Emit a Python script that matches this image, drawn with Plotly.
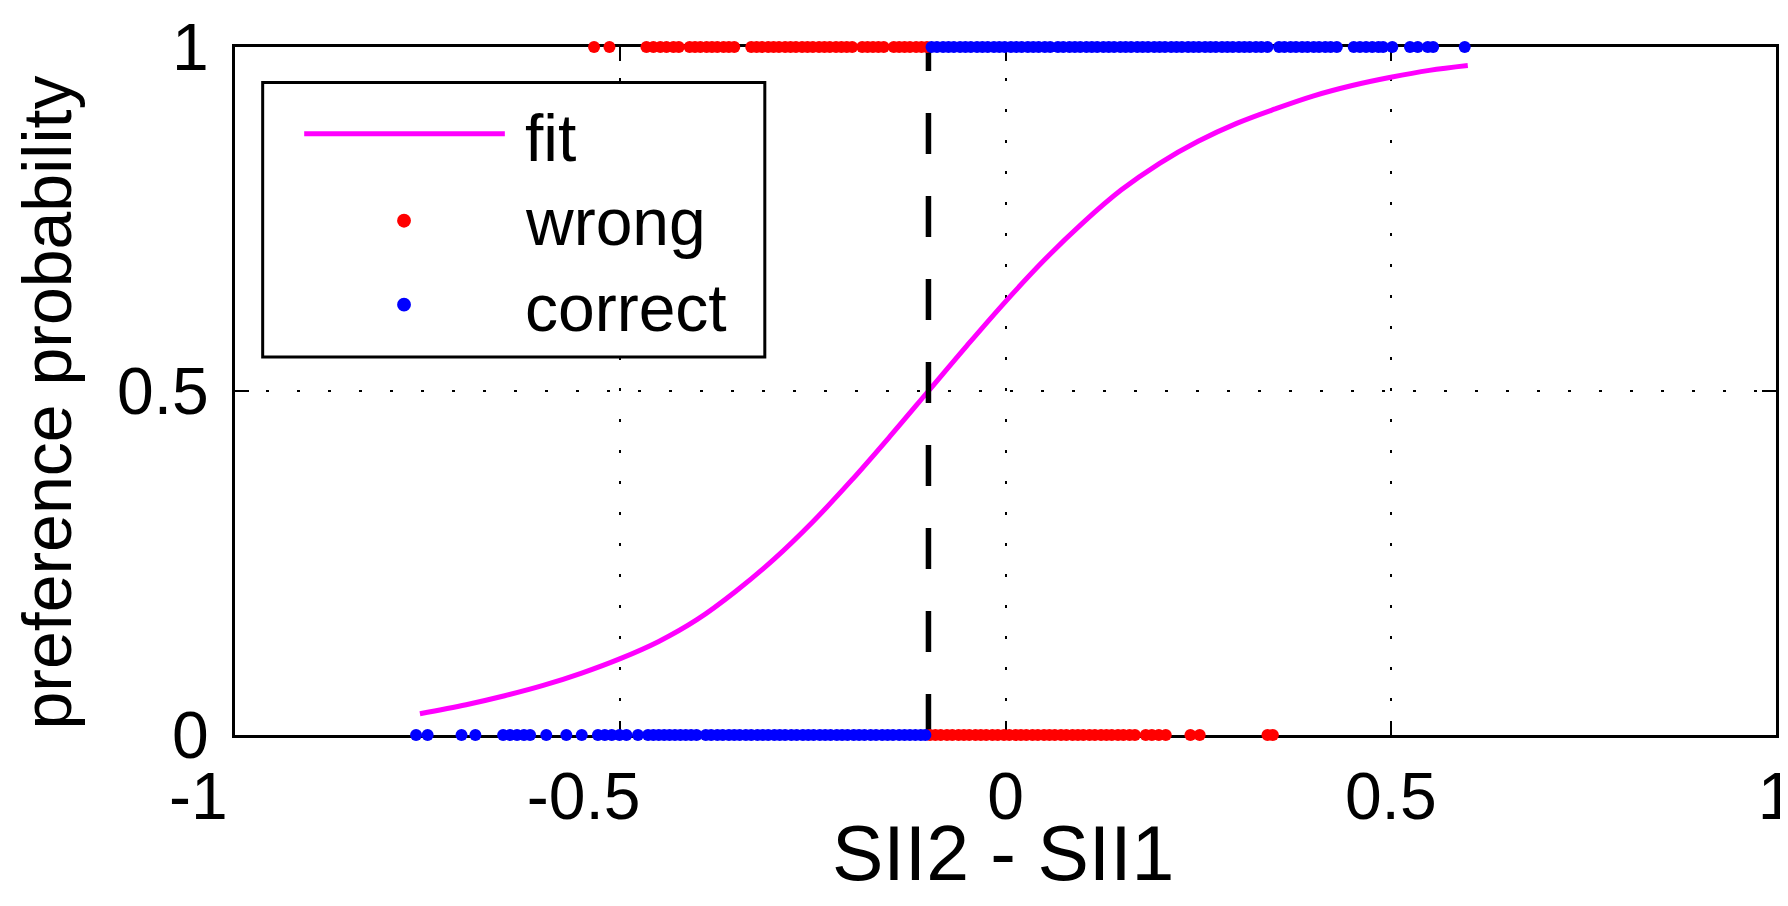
import plotly.graph_objects as go

# ---------------- data ----------------
threshold = -0.1

fit_x = [-0.76, -0.70, -0.65, -0.60, -0.55, -0.50, -0.45, -0.40, -0.35, -0.30,
         -0.25, -0.20, -0.15, -0.10, -0.05, 0.00, 0.05, 0.10, 0.15, 0.20,
         0.25, 0.30, 0.35, 0.40, 0.45, 0.50, 0.55, 0.60]
fit_y = [0.031, 0.044, 0.057, 0.072, 0.090, 0.111, 0.136, 0.168, 0.209, 0.256,
         0.310, 0.370, 0.434, 0.500, 0.566, 0.630, 0.690, 0.744, 0.792, 0.831,
         0.863, 0.889, 0.910, 0.929, 0.944, 0.956, 0.966, 0.973]

# "wrong" points at y = 1 (top) and y = 0 (bottom)
wrong_top_x = [-0.534, -0.514, -0.466, -0.457, -0.448, -0.440, -0.431, -0.424,
               -0.410, -0.403, -0.396, -0.388, -0.381, -0.374, -0.366, -0.359,
               -0.352, -0.330, -0.323, -0.316, -0.308, -0.301, -0.294, -0.286,
               -0.279, -0.272, -0.264, -0.257, -0.250, -0.242, -0.235, -0.228,
               -0.220, -0.213, -0.206, -0.199, -0.186, -0.179, -0.172, -0.165,
               -0.158, -0.145, -0.138, -0.131, -0.124, -0.116, -0.109, -0.102]
wrong_bot_x = [-0.098, -0.091, -0.084, -0.076, -0.069, -0.061, -0.054, -0.047,
               -0.039, -0.032, -0.025, -0.017, -0.010, -0.002, 0.005, 0.013,
               0.020, 0.027, 0.035, 0.042, 0.050, 0.057, 0.064, 0.072, 0.079,
               0.087, 0.094, 0.101, 0.109, 0.116, 0.124, 0.131, 0.138, 0.146,
               0.153, 0.161, 0.168, 0.182, 0.190, 0.199, 0.208, 0.240, 0.252,
               0.340, 0.347]

# "correct" points at y = 1 (top) and y = 0 (bottom)
correct_top_x = [-0.096, -0.089, -0.081, -0.074, -0.067, -0.059, -0.052, -0.045,
                 -0.037, -0.030, -0.023, -0.015, -0.008, -0.001, 0.007, 0.014,
                 0.021, 0.029, 0.036, 0.043, 0.051, 0.058, 0.068, 0.075, 0.083,
                 0.090, 0.097, 0.105, 0.112, 0.119, 0.127, 0.134, 0.141, 0.149,
                 0.156, 0.163, 0.171, 0.178, 0.185, 0.193, 0.200, 0.207, 0.215,
                 0.222, 0.229, 0.237, 0.244, 0.251, 0.259, 0.266, 0.273, 0.281,
                 0.288, 0.295, 0.303, 0.310, 0.317, 0.325, 0.332, 0.340, 0.355,
                 0.362, 0.370, 0.377, 0.385, 0.392, 0.400, 0.407, 0.415, 0.422,
                 0.430, 0.452, 0.460, 0.468, 0.476, 0.484, 0.490, 0.502, 0.525,
                 0.535, 0.548, 0.555, 0.596]
correct_bot_x = [-0.765, -0.750, -0.706, -0.688, -0.652, -0.643, -0.634, -0.625,
                 -0.617, -0.596, -0.570, -0.550, -0.529, -0.520, -0.511, -0.501,
                 -0.492, -0.477, -0.464, -0.457, -0.450, -0.443, -0.436, -0.429,
                 -0.422, -0.415, -0.408, -0.401, -0.389, -0.382, -0.374, -0.367,
                 -0.359, -0.352, -0.345, -0.337, -0.330, -0.322, -0.315, -0.308,
                 -0.300, -0.293, -0.286, -0.278, -0.271, -0.263, -0.256, -0.249,
                 -0.241, -0.234, -0.227, -0.219, -0.212, -0.205, -0.197, -0.190,
                 -0.183, -0.175, -0.168, -0.160, -0.153, -0.146, -0.138, -0.131,
                 -0.124, -0.117, -0.110, -0.104]

NB = "\u00a0"
x_ticks = [-1, -0.5, 0, 0.5, 1]
x_tick_labels = ["-1" + NB * 4, "-0.5" + NB * 4, "0", "0.5", "1"]
y_ticks = [0, 0.5, 1]
y_tick_labels = ["0", "0.5", "1"]

legend_labels = ["fit", "wrong", "correct"]
x_title = "SII2 - SII1"
y_title = "preference probability"

# ---------------- figure ----------------
W, H = 1788, 906
L, R, T, B = 227, 2, 30, 179
PW, PH = W - L - R, H - T - B

FONT = "Liberation Sans, Arial, Helvetica, sans-serif"
FS = 66
FS_XTITLE = 77
FS_YTITLE = 68
MAGENTA = "#FF00FF"
RED = "#FF0000"
BLUE = "#0000FF"


def px(xp):
    return (xp - L) / PW


def py(yp):
    return (H - B - yp) / PH


fig = go.Figure()

fig.add_trace(go.Scatter(
    x=fit_x, y=fit_y, mode="lines", name=legend_labels[0],
    line=dict(color=MAGENTA, width=5, shape="spline", smoothing=1.0),
    showlegend=False, cliponaxis=False))

fig.add_trace(go.Scatter(
    x=[threshold, threshold], y=[0, 1], mode="lines",
    line=dict(color="black", width=5.5, dash="41px,42px"),
    showlegend=False, cliponaxis=False))

fig.add_trace(go.Scatter(
    x=wrong_top_x + wrong_bot_x,
    y=[1] * len(wrong_top_x) + [0] * len(wrong_bot_x),
    mode="markers", name=legend_labels[1],
    marker=dict(color=RED, size=12, line=dict(width=0)),
    showlegend=False, cliponaxis=False))

fig.add_trace(go.Scatter(
    x=correct_top_x + correct_bot_x,
    y=[1] * len(correct_top_x) + [0] * len(correct_bot_x),
    mode="markers", name=legend_labels[2],
    marker=dict(color=BLUE, size=12, line=dict(width=0)),
    showlegend=False, cliponaxis=False))

axis_common = dict(
    showline=True, linecolor="black", linewidth=3, mirror="ticks",
    ticks="inside", ticklen=14, tickwidth=2, tickcolor="black",
    showgrid=True, gridcolor="black", gridwidth=2, griddash="3px,28px",
    zeroline=False, layer="below traces", ticklabeloverflow="allow",
    tickfont=dict(family=FONT, size=FS, color="black"),
)

fig.update_xaxes(range=[-1, 1], tickvals=x_ticks, ticktext=x_tick_labels,
                 ticklabelstandoff=2, **axis_common)
fig.update_yaxes(range=[0, 1], tickvals=y_ticks, ticktext=y_tick_labels,
                 ticklabelstandoff=10, **axis_common)

shapes = []
annotations = []

# legend box
shapes.append(dict(type="rect", xref="paper", yref="paper",
                   x0=px(255), x1=px(763), y0=py(344), y1=py(66),
                   line=dict(color="black", width=3), fillcolor="white",
                   layer="above"))
# legend fit line
shapes.append(dict(type="line", xref="paper", yref="paper",
                   x0=px(297), x1=px(500), y0=py(118), y1=py(118),
                   line=dict(color=MAGENTA, width=5), layer="above"))
# legend dots
for cy, col in [(206, RED), (291, BLUE)]:
    shapes.append(dict(type="circle", xref="paper", yref="paper",
                       x0=px(391), x1=px(405), y0=py(cy + 7), y1=py(cy - 7),
                       line=dict(width=0), fillcolor=col, layer="above"))

for label, cy in zip(legend_labels, [122, 207, 294]):
    annotations.append(dict(text=label, xref="paper", yref="paper",
                            x=px(518), y=py(cy), xanchor="left",
                            yanchor="middle", showarrow=False,
                            font=dict(family=FONT, size=FS, color="black")))

annotations.append(dict(text=x_title, xref="paper", yref="paper",
                        x=px(1004), y=py(847), xanchor="center",
                        yanchor="middle", showarrow=False,
                        font=dict(family=FONT, size=FS_XTITLE, color="black")))
annotations.append(dict(text=y_title, xref="paper", yref="paper",
                        x=px(37), y=py(390), xanchor="center",
                        yanchor="middle", textangle=-90, showarrow=False,
                        font=dict(family=FONT, size=FS_YTITLE, color="black")))

fig.update_layout(
    width=W, height=H, autosize=False,
    margin=dict(l=L, r=R, t=T, b=B, pad=0),
    paper_bgcolor="white", plot_bgcolor="white",
    showlegend=False,
    shapes=shapes, annotations=annotations,
)

fig.write_html("out.html")
